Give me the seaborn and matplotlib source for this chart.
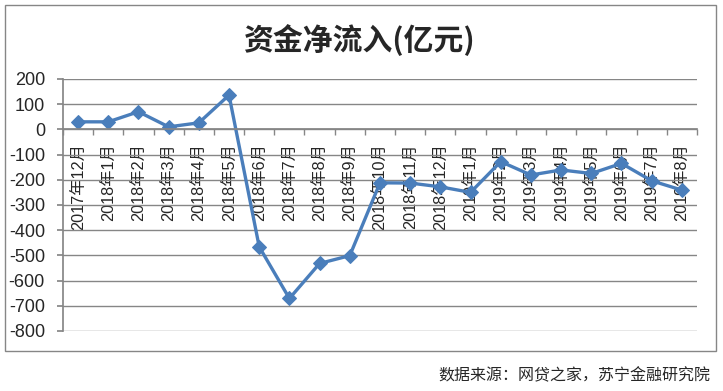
import numpy as np
import pandas as pd
import matplotlib
matplotlib.use('Agg')
import matplotlib.pyplot as plt
import seaborn as sns
from matplotlib.patches import Rectangle

months = ['2017年12月', '2018年1月', '2018年2月', '2018年3月', '2018年4月', '2018年5月',
          '2018年6月', '2018年7月', '2018年8月', '2018年9月', '2018年10月', '2018年11月',
          '2018年12月', '2019年1月', '2019年2月', '2019年3月', '2019年4月', '2019年5月',
          '2019年6月', '2019年7月', '2019年8月']
net_inflow = [30, 30, 70, 10, 26, 136, -466, -671, -532, -501, -212, -213,
              -228, -250, -128, -181, -161, -175, -135, -204, -241]
y_ticks = list(range(-800, 201, 100))

sns.set_theme(style='white')
plt.rcParams['font.family'] = ['Liberation Sans', 'Noto Sans CJK SC', 'DejaVu Sans']

df = pd.DataFrame({'pos': np.arange(len(months)), 'value': net_inflow})

fig = plt.figure(figsize=(7.23, 3.91), dpi=100)
ax = fig.add_axes([0.0871, 0.1535, 0.8769, 0.6445])

line_color = '#4A7EBB'
grid_color = '#868686'

sns.lineplot(data=df, x='pos', y='value', ax=ax, color=line_color, lw=2.4,
             marker='D', markersize=7.5, markeredgecolor=line_color, markerfacecolor=line_color)

ax.set_ylim(-800, 200)
ax.set_xlim(-0.5, len(months) - 0.5)
ax.set_yticks(y_ticks)
ax.set_yticklabels([str(v) for v in y_ticks], fontsize=13)
ax.yaxis.grid(True, color=grid_color, lw=1)
ax.set_axisbelow(True)

for side in ['top', 'right']:
    ax.spines[side].set_visible(False)
ax.spines['left'].set_color(grid_color)
ax.spines['bottom'].set_color(grid_color)
ax.spines['bottom'].set_position(('data', 0))

ax.set_xticks(np.arange(len(months)))
ax.set_xticklabels(months, rotation=90, fontsize=11.7)
ax.set_xticks(np.arange(len(months) + 1) - 0.5, minor=True)
ax.tick_params(axis='x', which='major', length=0, pad=10)
ax.tick_params(axis='x', which='minor', length=4.5, color=grid_color, direction='out', bottom=True)
ax.tick_params(axis='y', length=4, color=grid_color, pad=9, left=True)
ax.set_xlabel('')
ax.set_ylabel('')

fig.text(0.497, 0.897, '资金净流入(亿元)', ha='center', va='center',
         fontsize=21.5, fontweight='bold', family=['Noto Sans CJK SC', 'DejaVu Sans'])
fig.text(0.982, 0.04, '数据来源：网贷之家，苏宁金融研究院', ha='right', va='center',
         fontsize=11.5, style='italic', family=['Noto Sans CJK SC', 'DejaVu Sans'])

fig.patches.append(Rectangle((5 / 723, 1 - 351 / 391), 711 / 723, 346 / 391,
                             transform=fig.transFigure, fill=False,
                             edgecolor=grid_color, lw=1))

plt.savefig('out.png', dpi=100)
